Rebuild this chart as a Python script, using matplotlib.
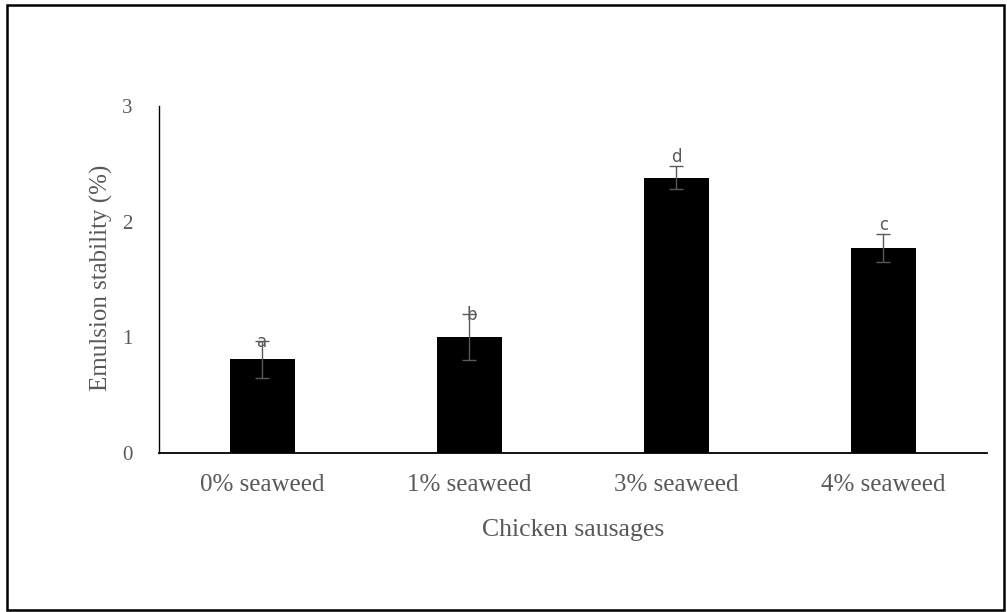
import matplotlib.pyplot as plt
from matplotlib.patches import Rectangle

# emulsion stability of chicken sausages with added seaweed
groups = ['0% seaweed', '1% seaweed', '3% seaweed', '4% seaweed']
means = [0.81, 1.00, 2.38, 1.77]
errs = [0.16, 0.20, 0.10, 0.12]
letters = ['a', 'b', 'd', 'c']
letter_dx = [0, 2, 0, 0]     # points
letter_dy = [-7, -7, 0, 0]   # points, shift of the letter from the bar top

grey = '#595959'
plt.rcParams['font.family'] = ['Liberation Serif', 'DejaVu Serif']

fig = plt.figure(figsize=(10.07, 6.12), dpi=100)
ax = fig.add_axes([0.1579, 0.2598, 0.822, 0.567])

x = range(len(groups))
ax.bar(x, means, width=0.315, color='black', zorder=2)
ax.errorbar(x, means, yerr=errs, fmt='none', ecolor=grey, elinewidth=1,
            capsize=4.7, capthick=1, zorder=3)

for i, (m, e, t) in enumerate(zip(means, errs, letters)):
    ax.annotate(t, (i, m + e), xytext=(letter_dx[i], letter_dy[i]),
                textcoords='offset points', ha='center', va='bottom',
                fontsize=12, color=grey, family=['DejaVu Sans'])

ax.set_xlim(-0.5, 3.5)
ax.set_ylim(0, 3)
ax.set_yticks([0, 1, 2, 3])
ax.set_xticks(list(x))
ax.set_xticklabels(groups)
ax.tick_params(length=0, labelcolor=grey)
ax.tick_params(axis='y', pad=19, labelsize=15)
ax.tick_params(axis='x', pad=15, labelsize=18)
for s in ['top', 'right']:
    ax.spines[s].set_visible(False)
ax.spines['left'].set_linewidth(1)
ax.spines['bottom'].set_linewidth(1.3)

ax.set_xlabel('Chicken sausages', fontsize=18.5, color=grey, labelpad=17)
ax.set_ylabel('Emulsion stability (%)', fontsize=18, color=grey)
ax.yaxis.set_label_coords(-0.055, 0.505)

# frame round the whole picture
fig.patches.append(Rectangle((0.007, 0.004), 0.99, 0.988, transform=fig.transFigure,
                             fill=False, edgecolor='black', linewidth=1.8))

fig.savefig('out.png', dpi=100)
